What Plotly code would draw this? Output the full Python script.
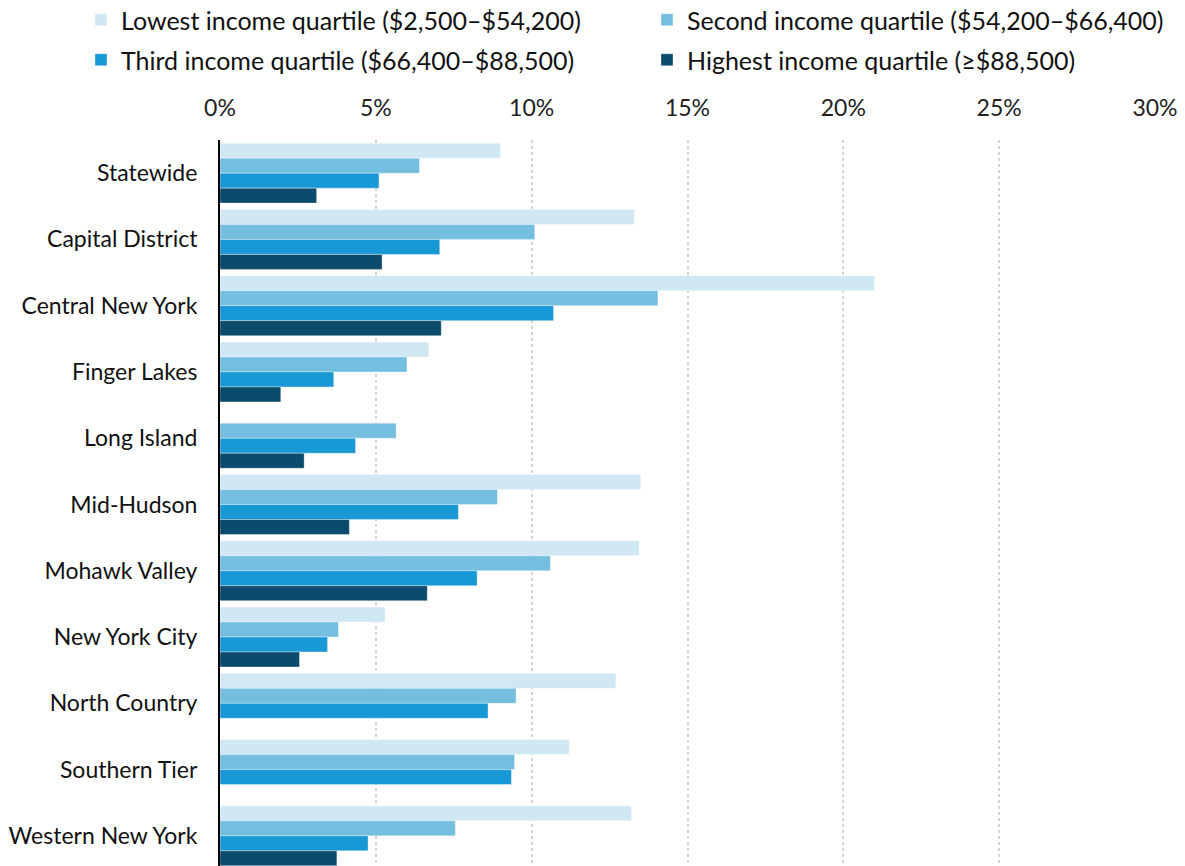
import plotly.graph_objects as go

regions = ["Statewide", "Capital District", "Central New York", "Finger Lakes",
           "Long Island", "Mid-Hudson", "Mohawk Valley", "New York City",
           "North Country", "Southern Tier", "Western New York"]

lowest = [9.0, 13.3, 21.0, 6.7, None, 13.5, 13.45, 5.3, 12.7, 11.2, 13.2]
second = [6.4, 10.1, 14.05, 6.0, 5.65, 8.9, 10.6, 3.8, 9.5, 9.45, 7.55]
third = [5.1, 7.05, 10.7, 3.65, 4.35, 7.65, 8.25, 3.45, 8.6, 9.35, 4.75]
highest = [3.1, 5.2, 7.1, 1.95, 2.7, 4.15, 6.65, 2.55, None, None, 3.75]

series_names = ["Lowest income quartile ($2,500–$54,200)",
                "Second income quartile ($54,200–$66,400)",
                "Third income quartile ($66,400–$88,500)",
                "Highest income quartile (≥$88,500)"]
series_values = [lowest, second, third, highest]
colors = ["#d0e8f4", "#74bee0", "#1898d5", "#0b4c6c"]
legend_ids = ["legend", "legend2", "legend3", "legend4"]

tick_vals = [0, 5, 10, 15, 20, 25, 30]
tick_text = ["0%", "5%", "10%", "15%", "20%", "25%", "30%"]

W, H = 1185, 866

fig = go.Figure()
for name, vals, col, lg in zip(series_names, series_values, colors, legend_ids):
    fig.add_trace(go.Bar(
        y=regions, x=vals, name=name, orientation="h",
        marker=dict(color=col, line=dict(color="rgba(255,255,255,0.35)", width=1)),
        legend=lg, showlegend=True,
    ))

font_family = "Lato, 'Open Sans', sans-serif"


def leg(px_x, px_y):
    return dict(orientation="h", xref="container", yref="container",
                x=px_x / W, y=1 - px_y / H, xanchor="left", yanchor="middle",
                font=dict(size=25, color="#111111"),
                bgcolor="rgba(0,0,0,0)", visible=True)


fig.update_layout(
    width=W, height=H, showlegend=True,
    margin=dict(l=220, r=30, t=140, b=0, autoexpand=False),
    paper_bgcolor="white", plot_bgcolor="white",
    barmode="group", bargap=0.095, bargroupgap=0,
    font=dict(family=font_family, size=23, color="#111111"),
    legend=leg(81, 20),
    legend2=leg(647, 20),
    legend3=leg(81, 60),
    legend4=leg(647, 60),
    xaxis=dict(side="top", range=[0, 30], tickvals=tick_vals, ticktext=tick_text,
               showgrid=True, gridcolor="#d4d4d4", griddash="dot", gridwidth=2,
               zeroline=False, showline=False, ticks="", automargin=False,
               ticklabelstandoff=18,
               tickfont=dict(size=23, color="#222222")),
    yaxis=dict(autorange=False, range=[10.455, -0.5], type="category",
               showline=True, linecolor="black", linewidth=2,
               showgrid=False, ticks="", ticklabelstandoff=16, automargin=False,
               tickfont=dict(size=23, color="#111111")),
)

fig.write_html("out.html", config={"displayModeBar": False},
               post_script="document.body.style.margin='0px';")
